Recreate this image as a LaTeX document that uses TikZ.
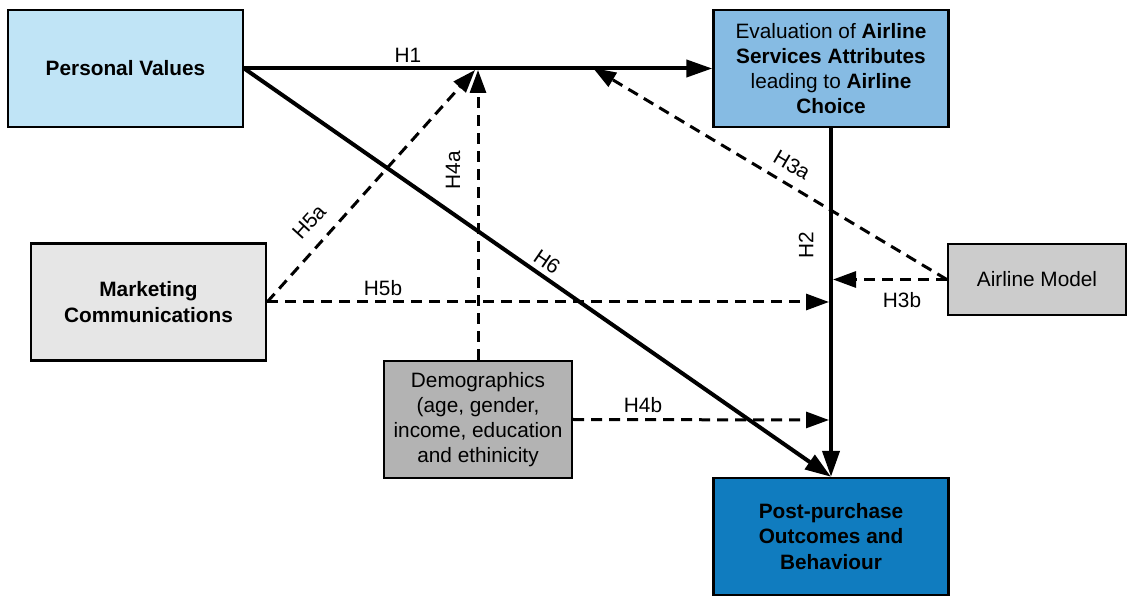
\documentclass[tikz,border=0pt]{standalone}
\usepackage{fontspec}
\setmainfont{Liberation Sans}
\usetikzlibrary{arrows.meta}
\definecolor{pvfill}{HTML}{C0E4F6}
\definecolor{evfill}{HTML}{86BBE3}
\definecolor{mcfill}{HTML}{E6E6E6}
\definecolor{dmfill}{HTML}{B3B3B3}
\definecolor{amfill}{HTML}{CCCCCC}
\definecolor{ppfill}{HTML}{107CBF}
\tikzset{
  box/.style={draw=black, line width=1.2pt, align=center, inner sep=2pt,
    font=\fontsize{10.4}{12.6}\selectfont},
  bigbox/.style={box, minimum width=117.5pt, minimum height=58.5pt},
  solidlink/.style={line width=2pt, -{Triangle[length=13pt,width=8.5pt]}},
  dashlink/.style={line width=1.5pt, dash pattern=on 5.5pt off 3.5pt,
    -{Triangle[length=11.5pt,width=8pt]}},
  hlabel/.style={font=\fontsize{10.4}{12.6}\selectfont, inner sep=0pt}
}
\begin{document}
\begin{tikzpicture}[x=0.5pt,y=-0.5pt]
\useasboundingbox (0,0) rectangle (1127,597);

% construct boxes
\node[bigbox, fill=pvfill] (pv) at (125.5,68.5) {\textbf{Personal Values}};
\node[bigbox, fill=evfill] (ev) at (831,68.5)
  {Evaluation of \textbf{Airline}\\\textbf{Services Attributes}\\leading to \textbf{Airline}\\\textbf{Choice}};
\node[bigbox, fill=mcfill] (mc) at (148.5,302) {\textbf{Marketing}\\\textbf{Communications}};
\node[box, fill=dmfill, minimum width=94pt, minimum height=58.5pt] (dm) at (478,419.5)
  {Demographics\\(age, gender,\\income, education\\and ethinicity};
\node[box, fill=amfill, minimum width=89pt, minimum height=35.5pt] (am) at (1037,279.5) {Airline Model};
\node[bigbox, fill=ppfill] (pp) at (831,536.5) {\textbf{Post-purchase}\\\textbf{Outcomes and}\\\textbf{Behaviour}};

% junction points on the H1 and H2 paths
\coordinate (h1a) at (593,68);
\coordinate (h1b) at (478,70);
\coordinate (h1c) at (475,70);
\coordinate (h2a) at (833,279.5);
\coordinate (h2b) at (829,302);
\coordinate (h2c) at (829,420);

% direct effects
\draw[solidlink] (pv.east) -- (ev.west);
\draw[solidlink] (ev.south) -- (pp.north);
\draw[solidlink] (pv.east) -- (pp.north);

% moderating effects
\draw[dashlink] (am.west) -- (h1a);
\draw[dashlink] (am.west) -- (h2a);
\draw[dashlink] (dm.north) -- (h1b);
\draw[dashlink] (dm.east) -- (h2c);
\draw[dashlink] (mc.east) -- (h1c);
\draw[dashlink] (mc.east) -- (h2b);

% hypothesis labels
\node[hlabel] (l1) at (408,55) {H1};
\node[hlabel, rotate=90] (l2) at (806,245) {H2};
\node[hlabel, rotate=-30.4] (l3a) at (792,165) {H3a};
\node[hlabel] (l3b) at (902,300) {H3b};
\node[hlabel, rotate=90] (l4a) at (453,170) {H4a};
\node[hlabel] (l4b) at (643,405) {H4b};
\node[hlabel, rotate=47.8] (l5a) at (309,222) {H5a};
\node[hlabel] (l5b) at (383,288) {H5b};
\node[hlabel, rotate=-34.5] (l6) at (547,262) {H6};
\end{tikzpicture}
\end{document}
